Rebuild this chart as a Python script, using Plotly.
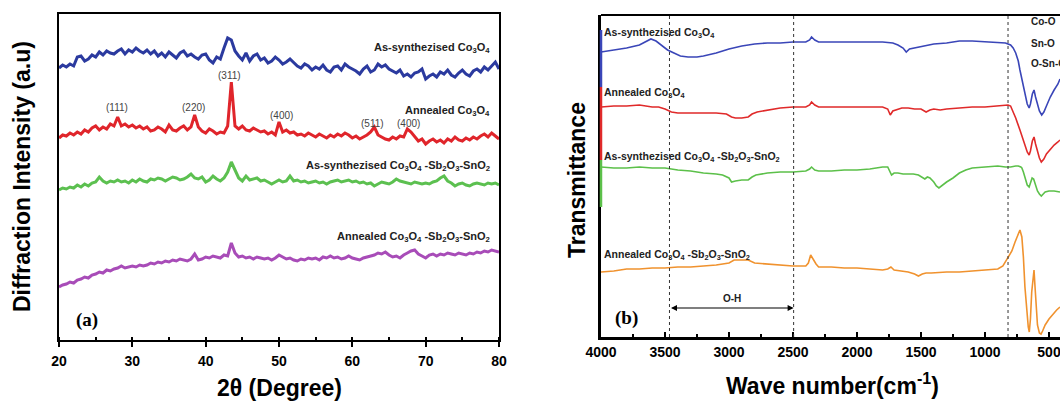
import plotly.graph_objects as go

# ---------------- XRD data (panel a) ----------------
two_theta = [20 + 0.5 * i for i in range(121)]
xrd_as_co3o4 = [272,275,273,276,274,283,284,279,281,285,
                283,288,285,289,287,286,289,291,286,290,
                288,292,289,287,290,286,289,284,287,283,
                288,285,282,287,289,284,286,283,281,285,
                286,280,277,283,281,292,302,300,289,284,
                280,287,279,284,286,280,282,277,279,283,
                280,276,278,281,277,274,272,276,274,270,
                273,271,275,270,268,273,274,270,276,273,
                271,269,266,271,274,268,270,276,273,275,
                271,269,267,270,264,266,263,267,268,271,
                261,264,266,263,268,266,270,265,263,267,
                270,266,264,269,271,268,273,270,274,278,
                271]
xrd_ann_co3o4 = [202,205,204,207,205,208,206,210,208,212,
                 214,210,213,211,216,214,223,214,216,213,
                 215,212,214,211,213,209,210,213,211,208,
                 215,210,209,212,214,210,213,225,213,209,
                 207,211,209,206,208,207,214,258,214,211,
                 214,210,209,212,210,208,209,206,208,205,
                 218,208,210,207,208,205,206,204,207,205,
                 203,206,204,202,205,203,206,204,207,205,
                 202,204,201,203,205,208,213,205,203,201,
                 200,203,201,204,203,211,208,203,199,201,
                 196,199,201,198,200,197,201,199,203,200,
                 199,202,200,203,201,204,206,203,207,204,
                 201]
xrd_as_comp = [150,152,151,153,152,155,153,156,154,157,
               158,163,159,157,159,158,160,158,159,157,
               160,158,161,159,158,161,160,162,161,159,
               161,163,162,160,161,163,166,162,161,163,
               158,160,164,161,159,162,168,178,170,162,
               159,164,160,161,162,159,160,158,156,158,
               160,158,159,164,159,160,158,159,157,158,
               159,157,158,156,158,159,160,158,159,160,
               158,159,157,158,156,157,154,156,158,157,
               156,158,161,159,158,157,156,158,157,156,
               157,156,158,159,162,164,159,157,154,156,
               157,155,154,156,157,156,155,157,156,157,
               155]
xrd_ann_comp = [53,55,56,58,57,60,61,63,62,65,
                66,68,67,70,69,71,72,74,72,73,
                74,73,75,74,75,77,76,78,77,79,
                78,80,79,81,80,79,81,86,80,81,
                83,82,84,83,82,85,84,97,87,83,
                84,82,83,81,83,82,81,82,80,82,
                85,83,81,82,80,79,81,80,82,81,
                82,80,83,82,84,82,83,81,82,84,
                82,81,80,82,83,84,85,87,86,88,
                85,83,84,82,85,87,89,90,86,84,
                82,85,86,84,86,85,87,86,85,87,
                86,85,87,86,88,87,89,88,90,89,
                88]

miller_labels = ["(111)", "(220)", "(311)", "(400)", "(511)", "(400)"]
miller_x = [27.9, 38.4, 43.3, 50.4, 62.8, 67.7]
miller_y = [232, 232, 264, 224, 216, 216]

xrd_names = ["As-synthezised Co<sub>3</sub>O<sub>4</sub>",
             "Annealed Co<sub>3</sub>O<sub>4</sub>",
             "As-synthezised Co<sub>3</sub>O<sub>4</sub> -Sb<sub>2</sub>O<sub>3</sub>-SnO<sub>2</sub>",
             "Annealed Co<sub>3</sub>O<sub>4</sub> -Sb<sub>2</sub>O<sub>3</sub>-SnO<sub>2</sub>"]
xrd_label_y = [292, 229, 174, 103]

# ---------------- FTIR data (panel b) ----------------
ftir_as_co3o4_w = [4000,3900,3800,3700,3650,3610,3570,3530,3480,3430,3380,3320,3250,3200,3100,3000,
                   2900,2800,2700,2600,2500,2400,2370,2355,2330,2300,2200,2100,2000,1900,1800,1720,
                   1680,1640,1615,1590,1550,1500,1450,1400,1300,1200,1100,1000,900,840,800,780,760,
                   740,727,710,690,670,655,645,630,617,605,590,575,557,540,520,490,460,430,414]
ftir_as_co3o4 = [285,287,289,292,295,298,296,292,287,284,281,280,280,281,284,288,
                 291,293,294,294,295,295,297,300,297,295,295,295,295,295,295,294,
                 292,289,285,288,289,290,291,293,294,296,296,295,294,294,292,289,284,
                 276,267,256,243,233,229,233,243,247,240,232,226,222,225,231,240,247,253,258]

ftir_ann_co3o4_w = [4000,3900,3800,3700,3600,3550,3500,3450,3400,3300,3200,3100,3020,2980,2950,2900,
                    2850,2820,2780,2700,2600,2500,2400,2370,2355,2330,2300,2200,2100,2000,1900,1800,
                    1760,1740,1720,1700,1650,1600,1550,1500,1460,1430,1400,1350,1300,1200,1100,1000,
                    900,820,800,780,760,727,710,690,670,655,645,630,617,605,590,575,560,540,520,490,
                    460,430,414]
ftir_ann_co3o4 = [230,231,231,232,230,230,228,225,224,224,224,224,223,220,219,219,
                  220,223,225,227,229,230,230,232,235,232,230,230,230,230,230,230,
                  228,222,226,227,229,229,228,228,225,227,228,227,228,229,230,230,
                  231,232,231,225,219,207,200,192,185,182,186,196,200,193,185,179,175,178,183,188,
                  192,195,197]

ftir_as_comp_w = [4000,3900,3800,3700,3600,3500,3450,3400,3300,3200,3100,3050,3000,2980,2950,2900,
                  2850,2820,2790,2700,2600,2500,2400,2370,2355,2330,2300,2200,2100,2000,1900,1800,
                  1760,1745,1730,1710,1680,1640,1600,1560,1520,1490,1470,1450,1430,1400,1380,1360,
                  1340,1300,1250,1200,1150,1100,1000,900,840,800,760,740,720,712,700,685,670,655,
                  645,632,620,605,590,575,560,545,530,500,460,414]
ftir_as_comp = [170,169,169,170,169,169,168,167,166,164,163,162,159,155,156,157,
                157,160,162,164,165,165,166,168,170,167,166,166,167,167,168,170,
                170,165,162,164,164,163,163,163,162,160,158,160,159,155,151,149,
                151,155,159,164,167,169,170,171,170,170,171,171,170,169,165,158,152,150,
                154,159,158,152,146,143,141,143,145,146,146,145]

ftir_ann_comp_w = [4000,3900,3800,3700,3600,3500,3400,3300,3200,3100,3000,2960,2900,2850,2800,2700,
                   2600,2500,2400,2380,2362,2345,2320,2300,2200,2100,2000,1900,1800,1760,1735,1710,
                   1650,1600,1550,1520,1490,1460,1420,1350,1300,1200,1100,1000,900,860,820,790,765,
                   745,727,712,700,688,675,662,654,645,635,625,617,610,600,590,575,562,550,530,500,
                   470,440,414]
ftir_ann_comp = [65,66,68,68,69,69,70,70,71,72,74,77,77,77,74,73,
                 72,71,71,74,82,78,73,70,70,69,69,68,67,68,70,67,
                 66,65,63,61,63,64,64,65,65,65,66,67,68,71,79,86,95,
                 102,107,100,80,50,25,10,5,18,45,63,67,52,27,12,4,3,6,12,18,
                 23,27,30]

ftir_names = xrd_names
ftir_label_y = [304, 244, 180, 82]
bond_labels = ["Co-O", "Sn-O", "O-Sn-O"]
marker_lines_w = [3465, 2495, 820]
oh_range = [3465, 2495]
# coloured stretches of the left frame of panel (b): (low, high, series index)
frame_segments = [(250, 307, 0), (177, 250, 1), (130, 177, 2)]

# ---------------- styling ----------------
FONT = "Liberation Sans"
SERIF = "Liberation Serif"
xrd_colors = ["#2b3a9f", "#e0252b", "#5cc050", "#a84cb8"]
ftir_colors = ["#3a46b8", "#e02a2a", "#5cc04a", "#f0922e"]

fig = go.Figure()
for ys, c in zip([xrd_as_co3o4, xrd_ann_co3o4, xrd_as_comp, xrd_ann_comp], xrd_colors):
    fig.add_trace(go.Scatter(x=two_theta, y=ys, mode="lines", line=dict(color=c, width=3),
                             xaxis="x", yaxis="y", showlegend=False))
for xs, ys, c in zip([ftir_as_co3o4_w, ftir_ann_co3o4_w, ftir_as_comp_w, ftir_ann_comp_w],
                     [ftir_as_co3o4, ftir_ann_co3o4, ftir_as_comp, ftir_ann_comp], ftir_colors):
    fig.add_trace(go.Scatter(x=xs, y=ys, mode="lines", line=dict(color=c, width=1.6),
                             xaxis="x2", yaxis="y2", showlegend=False))

W, H = 1060, 402
tickfont = dict(family=FONT, size=14, color="black", weight="bold")

fig.update_layout(
    width=W, height=H, margin=dict(l=0, r=0, t=0, b=0, autoexpand=False),
    paper_bgcolor="white", plot_bgcolor="white", showlegend=False,
    font=dict(family=FONT),
    xaxis=dict(domain=[59 / W, 499 / W], range=[20, 80], tickvals=[20, 30, 40, 50, 60, 70, 80],
               ticktext=["<b>20</b>", "<b>30</b>", "<b>40</b>", "<b>50</b>", "<b>60</b>",
                         "<b>70</b>", "<b>80</b>"],
               showline=True, linecolor="black", linewidth=2, mirror=True,
               ticks="outside", ticklen=5, tickwidth=2, tickcolor="black",
               minor=dict(dtick=5, ticks="inside", ticklen=3, tickwidth=2, tickcolor="black"),
               tickfont=tickfont, ticklabelstandoff=2, ticklabeloverflow="allow",
               showgrid=False, zeroline=False, anchor="y", automargin=False),
    yaxis=dict(domain=[62 / H, 388 / H], range=[0, 326], showline=True, linecolor="black",
               linewidth=2, mirror=True, showticklabels=False, ticks="", showgrid=False,
               zeroline=False, anchor="x", automargin=False),
    xaxis2=dict(domain=[601 / W, 1.0], range=[4000, 414],
                tickvals=[4000, 3500, 3000, 2500, 2000, 1500, 1000, 500],
                ticktext=["<b>4000</b>", "<b>3500</b>", "<b>3000</b>", "<b>2500</b>",
                          "<b>2000</b>", "<b>1500</b>", "<b>1000</b>", "<b>500</b>"],
                showline=True, linecolor="black", linewidth=2.5, mirror=False,
                ticks="inside", ticklen=5, tickwidth=2, tickcolor="black",
                minor=dict(dtick=250, ticks="inside", ticklen=3, tickwidth=2, tickcolor="black"),
                tickfont=tickfont, ticklabeloverflow="allow",
                showgrid=False, zeroline=False, anchor="y2", automargin=False),
    yaxis2=dict(domain=[65 / H, 387 / H], range=[0, 322], showline=True, linecolor="black",
                linewidth=2.5, mirror=False, showticklabels=False, ticks="", showgrid=False,
                zeroline=False, anchor="x2", automargin=False),
)

shapes = []
shapes.append(dict(type="line", xref="x2 domain", yref="y2 domain", x0=0, x1=1, y0=1, y1=1,
                   line=dict(color="black", width=2)))
for w in marker_lines_w:
    shapes.append(dict(type="line", xref="x2", yref="y2 domain", x0=w, x1=w, y0=0, y1=1,
                       line=dict(color="#333333", width=1, dash="dot")))
for lo, hi, i in frame_segments:
    shapes.append(dict(type="line", xref="x2 domain", yref="y2", x0=0, x1=0, y0=lo, y1=hi,
                       line=dict(color=ftir_colors[i], width=2.5)))
fig.update_layout(shapes=shapes)

def A(**kw):
    kw.setdefault("showarrow", False)
    kw.setdefault("xanchor", "center")
    kw.setdefault("yanchor", "middle")
    return kw

ann = []
for t, y in zip(xrd_names, xrd_label_y):
    ann.append(A(x=79.1, y=y, xref="x", yref="y", text=t, xanchor="right",
                 font=dict(family=FONT, size=11, color="#222", weight="bold")))
for t, x, y in zip(miller_labels, miller_x, miller_y):
    ann.append(A(x=x, y=y, xref="x", yref="y", text=t,
                 font=dict(family=FONT, size=10, color="#444")))
ann.append(A(x=87 / W, y=1 - 320 / H, xref="paper", yref="paper", text="(a)",
             font=dict(family=SERIF, size=19, color="black", weight="bold")))
ann.append(A(x=626 / W, y=1 - 318 / H, xref="paper", yref="paper", text="(b)",
             font=dict(family=SERIF, size=19, color="black", weight="bold")))
for t, y in zip(ftir_names, ftir_label_y):
    ann.append(A(x=3995, y=y, xref="x2", yref="y2", text=t, xanchor="left",
                 font=dict(family=FONT, size=10.5, color="#222", weight="bold")))
for t, ypx in zip(bond_labels, [22, 43, 63]):
    ann.append(A(x=1029 / W, y=1 - ypx / H, xref="paper", yref="paper", text=t, xanchor="left",
                 font=dict(family=FONT, size=10, color="#222", weight="bold")))
ann.append(dict(x=oh_range[1], y=29, ax=oh_range[0], ay=29, xref="x2", yref="y2", axref="x2",
                ayref="y2", text="", showarrow=True, arrowhead=2, arrowside="end+start",
                arrowsize=1, arrowwidth=1.2, arrowcolor="black"))
ann.append(A(x=(oh_range[0] + oh_range[1]) / 2, y=39, xref="x2", yref="y2", text="O-H",
             font=dict(family=FONT, size=10, color="#222", weight="bold")))
ann.append(A(x=22 / W, y=1 - 177 / H, xref="paper", yref="paper",
             text="Diffraction Intensity (a.u)", textangle=-90,
             font=dict(family=FONT, size=23, color="black", weight="bold")))
ann.append(A(x=279 / W, y=1 - 388 / H, xref="paper", yref="paper", text="2θ (Degree)",
             font=dict(family=FONT, size=23, color="black", weight="bold")))
ann.append(A(x=577 / W, y=1 - 180 / H, xref="paper", yref="paper", text="Transmittance",
             textangle=-90, font=dict(family=FONT, size=23, color="black", weight="bold")))
ann.append(A(x=832 / W, y=1 - 384 / H, xref="paper", yref="paper",
             text="Wave number(cm<sup>-1</sup>)",
             font=dict(family=FONT, size=23, color="black", weight="bold")))
fig.update_layout(annotations=ann)

fig.write_html("out.html")
